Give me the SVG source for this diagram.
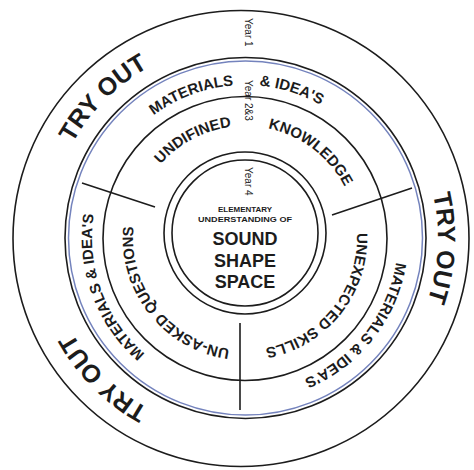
<svg xmlns="http://www.w3.org/2000/svg" width="474" height="470" viewBox="0 0 474 470">
<style>
.ln{fill:none;stroke:#1c1c1c;stroke-width:1.6}
.bl{fill:none;stroke:#7483bd;stroke-width:1.5}
.t{font-family:"Liberation Sans",Arial,sans-serif;font-weight:bold;fill:#1c1c1c}
.big{font-size:25px}
.mid{font-size:15px}
.yr{font-family:"Liberation Sans",Arial,sans-serif;font-size:10px;fill:#1c1c1c}
</style>
<defs>
<path id="pTry" d="M243,433 A195,195 0 1,1 243,43 A195,195 0 1,1 243,433"/>
<path id="pMat" d="M245,391 A153,153 0 1,1 245,85 A153,153 0 1,1 245,391"/>
<path id="pIn" d="M245,350 A112,112 0 1,1 245,126 A112,112 0 1,1 245,350"/>
</defs>
<rect width="474" height="470" fill="#fff"/>
<g id="ring-try-out">
<circle class="ln" cx="241" cy="238.5" r="228"/>
<text class="t big"><textPath href="#pTry" startOffset="12.5%" text-anchor="middle">TRY OUT</textPath></text>
<text class="t big"><textPath href="#pTry" startOffset="37.5%" text-anchor="middle">TRY OUT</textPath></text>
<text class="t big"><textPath href="#pTry" startOffset="75.8%" text-anchor="middle">TRY OUT</textPath></text>
</g>
<g id="ring-materials">
<circle class="ln" cx="245.5" cy="238" r="180.5"/>
<circle class="bl" cx="245.5" cy="238" r="177"/>
<text class="t mid"><textPath href="#pMat" startOffset="48.8%" text-anchor="end">MATERIALS</textPath></text>
<text class="t mid"><textPath href="#pMat" startOffset="51.5%" text-anchor="start">&amp; IDEA'S</textPath></text>
<text class="t mid"><textPath href="#pMat" startOffset="85.6%" text-anchor="middle">MATERIALS &amp; IDEA'S</textPath></text>
<text class="t mid"><textPath href="#pMat" startOffset="19.4%" text-anchor="middle">MATERIALS &amp; IDEA'S</textPath></text>
</g>
<g id="ring-knowledge">
<circle class="ln" cx="245" cy="238.5" r="142"/>
<text class="t mid"><textPath href="#pIn" startOffset="48.06%" text-anchor="end">UNDIFINED</textPath></text>
<text class="t mid"><textPath href="#pIn" startOffset="53.3%" text-anchor="start">KNOWLEDGE</textPath></text>
<text class="t mid"><textPath href="#pIn" startOffset="85.7%" text-anchor="middle">UNEXPECTED SKILLS</textPath></text>
<text class="t mid"><textPath href="#pIn" startOffset="14.4%" text-anchor="middle">UN-ASKED QUESTIONS</textPath></text>
</g>
<g id="core">
<circle class="ln" cx="245" cy="233" r="81"/>
<circle class="ln" cx="245" cy="233" r="73"/>
<text class="t" x="245" y="212" font-size="7" text-anchor="middle" textLength="54" lengthAdjust="spacingAndGlyphs">ELEMENTARY</text>
<text class="t" x="245" y="222" font-size="7" text-anchor="middle" textLength="94" lengthAdjust="spacingAndGlyphs">UNDERSTANDING OF</text>
<text class="t" x="245" y="245" font-size="18" text-anchor="middle">SOUND</text>
<text class="t" x="245" y="267" font-size="18" text-anchor="middle">SHAPE</text>
<text class="t" x="245" y="288" font-size="18" text-anchor="middle">SPACE</text>
</g>
<g id="year-labels">
<text class="yr" transform="translate(245,18) rotate(90)">Year 1</text>
<text class="yr" transform="translate(245,80) rotate(90)">Year 2&amp;3</text>
<text class="yr" transform="translate(245,167) rotate(90)">Year 4</text>
</g>
<g id="dividers">
<line class="ln" x1="82" y1="183" x2="155" y2="207"/>
<line class="ln" x1="332" y1="215" x2="412" y2="188"/>
<line class="ln" x1="240" y1="323" x2="240" y2="410"/>
</g>
</svg>
